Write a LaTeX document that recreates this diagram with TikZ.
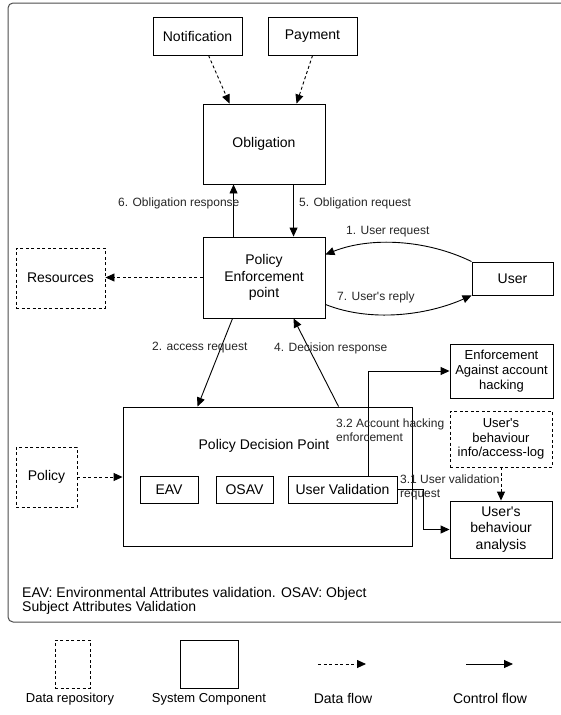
\documentclass[tikz,border=0pt]{standalone}
\usepackage{fontspec}
\setmainfont{Liberation Sans}
\usetikzlibrary{arrows.meta,calc}
\newcommand{\apos}{\textquotesingle}
\begin{document}
\begin{tikzpicture}[x=1pt,y=-1pt,
  box/.style={draw=black,line width=0.9pt,rectangle,inner sep=0pt,align=center,font=\fontsize{14}{16.5}\selectfont},
  repo/.style={box,dash pattern=on 3pt off 2.5pt},
  ctrl/.style={draw=black,line width=0.9pt,-{Triangle[length=9pt,width=8pt]}},
  dflow/.style={ctrl,dash pattern=on 3pt off 2.5pt},
  elabel/.style={inner sep=0pt,anchor=west,font=\fontsize{12}{13.5}\selectfont,align=left,text=black!85},
  plain/.style={inner sep=0pt,align=center,font=\fontsize{14}{16.5}\selectfont},
  ]
\useasboundingbox (0,0) rectangle (560,715);
% outer frame (its right side lies beyond the picture)
\draw[black!70,line width=1pt,rounded corners=5pt] (575,3) -- (8,3) -- (8,622) -- (575,622);

% nodes
\node[box,minimum width=89,minimum height=38] (notif) at (197.5,36) {Notification};
\node[box,minimum width=89,minimum height=38] (pay) at (312.5,36) {Payment};
\node[box,minimum width=122,minimum height=80] (oblig) at (264,144) {Obligation};
\node[box,minimum width=122,minimum height=81] (pep) at (264,277.5) {Policy\\Enforcement\\point};
\node[repo,minimum width=89,minimum height=60] (res) at (60.5,278) {Resources};
\node[box,minimum width=81,minimum height=33] (user) at (512.5,278.5) {User};
\node[box,minimum width=289,minimum height=139] (pdp) at (267.5,476.5) {};
\node[plain] (pdplabel) at (264,446) {Policy Decision Point};
\node[box,minimum width=58,minimum height=27] (eav) at (169,489.5) {EAV};
\node[box,minimum width=57,minimum height=27] (osav) at (244.5,489.5) {OSAV};
\node[box,minimum width=109,minimum height=27] (uv) at (342.5,489.5) {User Validation};
\node[repo,minimum width=61,minimum height=60] (policy) at (46.5,477) {Policy};
\node[box,minimum width=103,minimum height=54,font=\fontsize{13}{15}\selectfont] (enf) at (501.5,371) {Enforcement\\Against account\\hacking};
\node[repo,minimum width=102,minimum height=56,font=\fontsize{13}{14.5}\selectfont] (info) at (501,439) {User\apos s\\behaviour\\info/access-log};
\node[box,minimum width=102,minimum height=57] (ana) at (501,529.5) {User\apos s\\behaviour\\analysis};

% connectors
\draw[dflow] ($(notif.south west)+(56,0)$) -- ($(oblig.north west)+(27,0)$);
\draw[dflow] ($(pay.south west)+(45,0)$) -- ($(oblig.north west)+(94,0)$);
\draw[ctrl] ($(pep.north west)+(31,0)$) -- ($(oblig.south west)+(31,0)$);
\draw[ctrl] ($(oblig.south west)+(91,0)$) -- ($(pep.north west)+(91,0)$);
\draw[dflow] (pep.west) -- (pep.west -| res.east);
\draw[ctrl] (user.north west) .. controls +(-45,-22) and +(45,-18) .. ($(pep.north east)+(0,18)$);
\draw[ctrl] ($(pep.south east)+(0,-14)$) .. controls +(45,18) and +(-45,20) .. (user.south west);
\draw[ctrl] ($(pep.south west)+(30,0)$) -- ($(pdp.north west)+(75,0)$);
\draw[ctrl] ($(pdp.north west)+(216,0)$) -- ($(pep.south west)+(91,0)$);
\draw[dflow] (policy.east) -- (policy.east -| pdp.west);
\draw[ctrl] ($(uv.north west)+(81,0)$) |- (enf.west);
\draw[ctrl] (uv.east) -- ++(26,0) |- (ana.west);
\draw[dflow] (info.south) -- (ana.north);

% edge labels
\node[elabel] (l6) at (118,203) {6. Obligation response};
\node[elabel] (l5) at (299,203) {5. Obligation request};
\node[elabel] (l1) at (346,232) {1. User request};
\node[elabel] (l7) at (337,297) {7. User\apos s reply};
\node[elabel] (l2) at (152,348) {2. access request};
\node[elabel] (l4) at (274,348) {4. Decision response};
\node[elabel] (l32) at (336,430) {3.2 Account hacking\\enforcement};
\node[elabel] (l31) at (400,487.5) {3.1 User validation\\request};

% footnote
\node[inner sep=0pt,anchor=west,align=left,font=\fontsize{14}{14.5}\selectfont] (note) at (22,601) {EAV: Environmental Attributes validation. OSAV: Object\\Subject Attributes Validation};

% legend
\node[repo,minimum width=35,minimum height=48] (lgrepo) at (72.5,664) {};
\node[box,minimum width=58,minimum height=48] (lgcomp) at (209,664) {};
\coordinate (dfa) at (318,664);
\coordinate (dfb) at (366,664);
\coordinate (cfa) at (466,664);
\coordinate (cfb) at (513,664);
\draw[dflow] (dfa) -- (dfb);
\draw[ctrl] (cfa) -- (cfb);
\node[plain,font=\fontsize{13}{14}\selectfont] (lgrepot) at (70,699) {Data repository};
\node[plain,font=\fontsize{13}{14}\selectfont] (lgcompt) at (209,699) {System Component};
\node[plain] (lgdft) at (343,698) {Data flow};
\node[plain] (lgcft) at (490,698) {Control flow};
\end{tikzpicture}
\end{document}
